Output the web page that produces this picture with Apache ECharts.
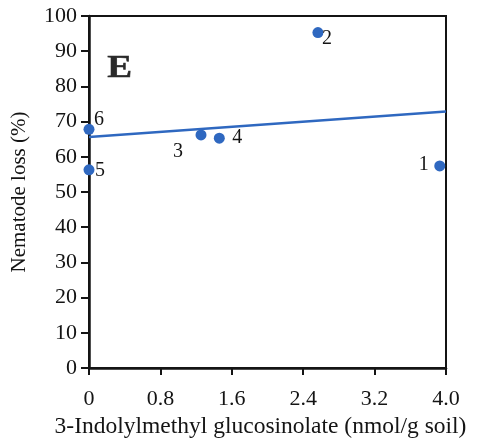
<!DOCTYPE html>
<html>
<head>
<meta charset="utf-8">
<script src="https://cdn.jsdelivr.net/npm/echarts@6/dist/echarts.min.js"></script>
<style>
  html, body { margin: 0; padding: 0; background: #fff; }
  #chart { width: 482px; height: 439px; }
</style>
</head>
<body>
<div id="chart"></div>
<script>
// Soil samples: 3-indolylmethyl glucosinolate vs nematode loss
const sampleIds = ['1', '2', '3', '4', '5', '6'];
const glucosinolate = [3.93, 2.565, 1.255, 1.46, 0, 0];
const nematodeLoss = [57.4, 95.3, 66.2, 65.3, 56.3, 67.8];

// Fitted trend line end points
const fitX = [0, 4.0];
const fitY = [65.6, 72.9];

// Axis ticks
const xTicks = [0, 0.8, 1.6, 2.4, 3.2, 4.0];
const yTicks = [0, 10, 20, 30, 40, 50, 60, 70, 80, 90, 100];

const SERIF = '"Liberation Serif", "DejaVu Serif", serif';
const INK = '#141414';
const BLUE = '#2f68c0';

// Label offsets around each marker (dx, dy in px)
const labelOffsets = {
  '1': [-16, -1],
  '2': [9, 6],
  '3': [-23, 17],
  '4': [18, 0],
  '5': [11, 1],
  '6': [10, -10]
};

const points = sampleIds.map((id, i) => ({
  name: id,
  value: [glucosinolate[i], nematodeLoss[i]],
  label: { offset: labelOffsets[id] }
}));

const chart = echarts.init(document.getElementById('chart'), null, { renderer: 'canvas' });

chart.setOption({
  animation: false,
  backgroundColor: '#fff',
  grid: {
    left: 89, right: 36, top: 16, bottom: 71,
    outerBoundsMode: 'none',
    containLabel: false,
    show: true, borderColor: INK, borderWidth: 2, backgroundColor: 'transparent'
  },
  xAxis: {
    type: 'value',
    min: xTicks[0], max: xTicks[xTicks.length - 1], interval: 0.8,
    name: '3-Indolylmethyl glucosinolate (nmol/g soil)',
    nameLocation: 'middle', nameGap: 47,
    nameTextStyle: { fontFamily: SERIF, fontSize: 23.5, color: INK, padding: [0, 14, 0, 0] },
    axisLine: { show: true, onZero: false, lineStyle: { color: INK, width: 2.5 } },
    axisTick: { show: true, inside: false, length: 7, lineStyle: { color: INK, width: 2 } },
    axisLabel: {
      fontFamily: SERIF, fontSize: 22, color: INK, margin: 20,
      formatter: v => {
        const hit = xTicks.find(t => Math.abs(t - v) < 1e-6);
        if (hit === undefined) return '';
        return hit === 0 ? '0' : hit.toFixed(1);
      }
    },
    splitLine: { show: false }
  },
  yAxis: {
    type: 'value',
    min: yTicks[0], max: yTicks[yTicks.length - 1], interval: 10,
    name: 'Nematode loss (%)',
    nameLocation: 'middle', nameGap: 59, nameRotate: 90,
    nameTextStyle: { fontFamily: SERIF, fontSize: 21, color: INK },
    axisLine: { show: true, onZero: false, lineStyle: { color: INK, width: 2.5 } },
    axisTick: { show: true, inside: false, length: 8, lineStyle: { color: INK, width: 2 } },
    axisLabel: { fontFamily: SERIF, fontSize: 22, color: INK, margin: 12 },
    splitLine: { show: false }
  },
  series: [
    {
      type: 'line',
      data: fitX.map((x, i) => [x, fitY[i]]),
      symbol: 'none',
      lineStyle: { color: BLUE, width: 2.5 },
      z: 2,
      silent: true
    },
    {
      type: 'scatter',
      data: points,
      symbol: 'circle',
      symbolSize: 11,
      itemStyle: { color: BLUE, opacity: 1 },
      z: 3,
      clip: false,
      label: {
        show: true,
        position: 'inside',
        formatter: p => p.name,
        fontFamily: SERIF,
        fontSize: 20,
        color: INK,
        align: 'center',
        verticalAlign: 'middle'
      }
    }
  ],
  graphic: [
    {
      type: 'text',
      left: 107, top: 53,
      scaleX: 1.2,
      style: {
        text: 'E',
        font: 'bold 31px ' + SERIF,
        fill: '#2a2a2a',
        stroke: '#2a2a2a',
        lineWidth: 0.5
      }
    }
  ]
});
</script>
</body>
</html>
